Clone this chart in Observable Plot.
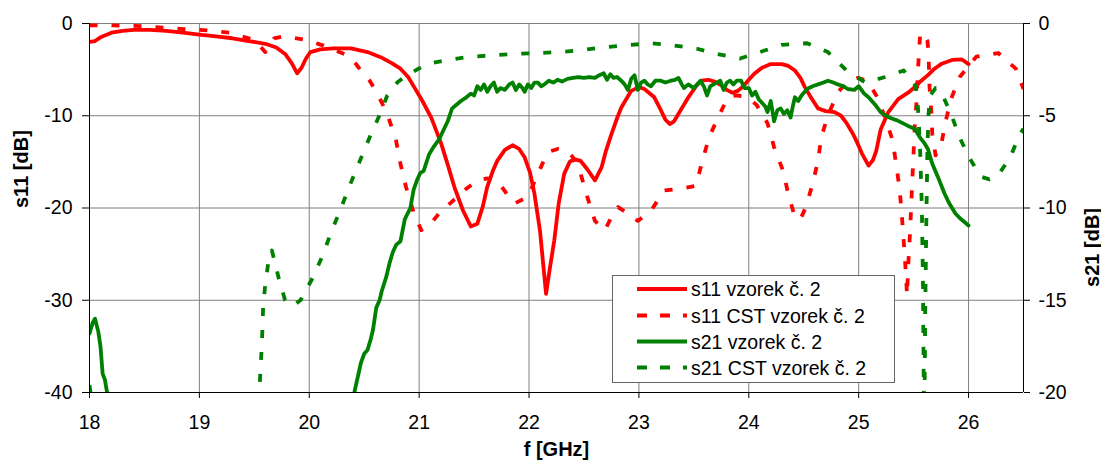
<!DOCTYPE html>
<html><head><meta charset="utf-8">
<script src="https://cdn.jsdelivr.net/npm/d3@7"></script>
<script src="https://cdn.jsdelivr.net/npm/@observablehq/plot@0.6"></script>
<style>
body{margin:0;background:#fff;}
#wrap{position:relative;width:1101px;height:465px;font-family:'Liberation Sans',Arial,sans-serif;}
#legend{position:absolute;left:0;top:0;pointer-events:none;}
</style></head><body><div id="wrap"></div>
<script>
// ---- data (frequency in GHz, values in dB) ----
const xTicks = [18, 19, 20, 21, 22, 23, 24, 25, 26];
const s11Ticks = [0, -10, -20, -30, -40];
const s21Ticks = [0, -5, -10, -15, -20];
const seriesNames = ["s11 vzorek č. 2", "s11 CST vzorek č. 2", "s21 vzorek č. 2", "s21 CST vzorek č. 2"];

const s11MeasF = [18.00,18.05,18.10,18.20,18.30,18.40,18.55,18.70,18.85,19.00,19.15,19.30,19.45,19.60,19.70,19.78,19.84,19.89,19.93,19.97,20.01,20.10,20.22,20.38,20.53,20.65,20.75,20.83,20.90,20.955,21.03,21.11,21.20,21.26,21.32,21.40,21.47,21.53,21.58,21.62,21.67,21.71,21.78,21.85,21.91,21.96,22.01,22.05,22.10,22.155,22.19,22.23,22.27,22.32,22.37,22.41,22.47,22.53,22.60,22.66,22.70,22.75,22.80,22.84,22.93,23.00,23.05,23.14,23.20,23.24,23.28,23.32,23.35,23.45,23.52,23.57,23.63,23.69,23.75,23.80,23.85,23.90,23.95,24.00,24.05,24.12,24.20,24.30,24.36,24.42,24.47,24.51,24.57,24.63,24.70,24.78,24.84,24.89,24.95,24.99,25.03,25.09,25.13,25.16,25.20,25.27,25.36,25.45,25.51,25.57,25.63,25.69,25.75,25.85,25.94,26.00];
const s11MeasDb = [-2.0,-1.9,-1.5,-1.0,-0.8,-0.7,-0.7,-0.8,-1.0,-1.2,-1.4,-1.6,-1.9,-2.2,-2.6,-3.3,-4.3,-5.4,-4.8,-3.8,-3.1,-2.8,-2.7,-2.7,-3.1,-3.65,-4.3,-4.9,-5.8,-6.9,-8.4,-10.2,-13.0,-15.3,-17.7,-20.3,-22.0,-21.7,-19.8,-17.7,-16.0,-14.9,-13.7,-13.2,-13.6,-14.5,-16.2,-18.5,-22.5,-29.3,-26.5,-23.5,-19.5,-16.3,-15.0,-14.7,-14.9,-15.8,-17.0,-15.6,-13.8,-12.0,-10.3,-9.1,-7.3,-6.9,-7.1,-8.0,-9.4,-10.4,-10.9,-10.6,-10.0,-8.0,-6.8,-6.2,-6.1,-6.3,-6.7,-7.2,-7.5,-7.3,-6.8,-6.1,-5.45,-4.8,-4.4,-4.4,-4.6,-5.1,-5.9,-6.9,-8.1,-9.2,-9.5,-9.6,-10.0,-10.8,-12.0,-13.0,-14.1,-15.4,-14.8,-13.8,-11.5,-9.6,-8.2,-7.5,-6.9,-6.2,-5.6,-4.9,-4.4,-3.95,-3.9,-4.4];

const s11CstF = [18.00,18.20,18.50,18.86,19.07,19.28,19.50,19.60,19.68,19.77,19.98,20.13,20.32,20.40,20.47,20.55,20.62,20.71,20.79,20.83,20.88,20.95,21.02,21.10,21.18,21.30,21.42,21.53,21.62,21.71,21.80,21.87,21.99,22.08,22.17,22.26,22.34,22.40,22.47,22.53,22.60,22.69,22.75,22.81,22.90,22.99,23.11,23.23,23.38,23.52,23.57,23.64,23.72,23.81,23.88,23.97,24.07,24.17,24.23,24.31,24.36,24.42,24.47,24.52,24.58,24.63,24.66,24.72,24.81,24.90,24.99,25.08,25.17,25.24,25.31,25.34,25.37,25.39,25.405,25.42,25.435,25.44,25.45,25.465,25.48,25.49,25.50,25.51,25.525,25.54,25.56,25.60,25.626,25.635,25.645,25.66,25.67,25.70,25.75,25.79,25.84,25.92,26.07,26.27,26.43,26.50];
const s11CstDb = [-0.2,-0.2,-0.3,-0.6,-0.75,-1.0,-1.8,-3.1,-1.6,-1.4,-1.8,-2.4,-3.3,-4.0,-5.1,-6.2,-7.6,-9.8,-12.7,-15.2,-17.7,-20.5,-22.4,-21.8,-20.6,-19.3,-18.0,-17.0,-16.8,-17.0,-18.5,-19.5,-18.8,-16.3,-13.95,-13.6,-13.8,-14.5,-16.3,-18.8,-21.4,-22.4,-21.0,-19.9,-20.6,-21.4,-20.3,-18.1,-17.9,-17.6,-15.2,-12.3,-10.2,-8.0,-7.8,-7.9,-8.8,-10.8,-13.4,-15.9,-18.5,-21.0,-21.2,-19.9,-17.4,-14.9,-12.3,-10.0,-7.45,-6.3,-5.9,-6.2,-8.0,-10.2,-12.7,-15.2,-17.7,-20.3,-22.8,-25.3,-28.3,-29.5,-26.4,-23.2,-19.2,-16.5,-13.95,-11.2,-8.7,-5.0,-1.0,-1.3,-1.9,-3.0,-6.9,-9.4,-12.0,-14.3,-13.2,-10.7,-8.2,-5.8,-3.6,-3.2,-4.9,-7.1];

const s21MeasF = [18.00,18.03,18.05,18.08,18.10,18.12,18.14,18.16,18.20,18.30,20.30,20.38,20.41,20.44,20.47,20.50,20.53,20.56,20.58,20.61,20.64,20.66,20.70,20.73,20.76,20.79,20.83,20.87,20.92,20.95,20.98,21.01,21.04,21.09,21.13,21.18,21.22,21.26,21.30,21.34,21.38,21.43,21.47,21.50,21.53,21.56,21.59,21.62,21.65,21.68,21.71,21.74,21.78,21.82,21.85,21.88,21.91,21.94,21.96,21.99,22.02,22.05,22.08,22.11,22.14,22.18,22.22,22.26,22.30,22.35,22.40,22.45,22.50,22.55,22.60,22.64,22.68,22.71,22.74,22.77,22.80,22.84,22.87,22.90,22.93,22.96,22.99,23.02,23.05,23.08,23.11,23.15,23.20,23.24,23.29,23.33,23.36,23.39,23.41,23.45,23.50,23.53,23.56,23.59,23.62,23.65,23.68,23.71,23.74,23.77,23.80,23.83,23.86,23.89,23.93,23.96,24.00,24.03,24.06,24.09,24.12,24.15,24.17,24.20,24.23,24.26,24.29,24.32,24.35,24.38,24.40,24.42,24.45,24.48,24.53,24.58,24.63,24.68,24.72,24.77,24.81,24.86,24.90,24.96,25.00,25.05,25.09,25.15,25.20,25.25,25.30,25.35,25.40,25.45,25.51,25.56,25.60,25.63,25.67,25.72,25.78,25.82,25.85,25.88,25.93,26.00];
const s21MeasDb = [-16.8,-16.2,-16.0,-16.7,-17.5,-19.0,-19.3,-20.0,-23.0,-25.0,-25.0,-22.0,-20.0,-19.2,-18.4,-17.9,-17.7,-17.1,-16.6,-15.4,-15.0,-14.5,-13.75,-13.0,-12.4,-12.0,-11.8,-10.6,-10.0,-9.0,-8.5,-8.1,-8.0,-7.1,-6.7,-6.3,-5.8,-5.3,-4.6,-4.4,-4.2,-4.0,-3.8,-3.9,-3.4,-3.6,-3.3,-3.7,-3.4,-3.2,-3.7,-3.5,-3.6,-3.3,-3.2,-3.6,-3.3,-3.5,-3.7,-3.3,-3.5,-3.2,-3.2,-3.4,-3.3,-3.1,-3.2,-3.05,-3.15,-3.0,-2.95,-2.9,-2.95,-2.9,-2.95,-2.8,-2.7,-3.05,-2.75,-2.95,-2.9,-3.1,-3.3,-3.6,-3.0,-2.8,-3.6,-3.2,-3.1,-3.3,-3.4,-3.1,-3.1,-3.2,-3.1,-3.05,-2.95,-3.3,-3.5,-3.3,-3.5,-3.3,-3.1,-3.4,-3.9,-3.4,-3.3,-3.2,-3.1,-3.6,-3.2,-3.1,-3.3,-3.1,-3.1,-3.5,-3.5,-3.9,-3.7,-4.1,-4.3,-4.5,-4.8,-4.2,-5.3,-4.7,-4.6,-4.9,-4.7,-5.1,-4.5,-4.0,-4.2,-3.9,-3.55,-3.4,-3.3,-3.2,-3.1,-3.2,-3.3,-3.4,-3.55,-3.6,-3.4,-3.8,-4.0,-4.4,-4.8,-5.0,-5.15,-5.25,-5.4,-5.55,-5.7,-6.2,-6.5,-6.8,-7.6,-8.3,-9.2,-9.7,-10.0,-10.3,-10.6,-10.95];

const s21CstF = [18.00,18.02,18.10,19.45,19.53,19.55,19.57,19.58,19.60,19.63,19.66,19.72,19.78,19.85,19.92,20.03,20.12,20.20,20.29,20.36,20.45,20.54,20.63,20.71,20.80,20.89,21.07,21.26,21.47,21.65,21.85,22.08,22.28,22.50,22.70,22.92,23.12,23.32,23.53,23.71,23.92,24.10,24.30,24.53,24.72,24.89,25.06,25.24,25.41,25.52,25.54,25.56,25.575,25.585,25.59,25.595,25.60,25.605,25.615,25.625,25.635,25.65,25.70,25.75,25.84,25.92,26.01,26.11,26.19,26.26,26.38,26.46,26.50];
const s21CstDb = [-19.6,-20.5,-25.0,-25.0,-20.3,-19.5,-17.2,-15.4,-14.1,-12.85,-12.3,-13.75,-15.0,-15.3,-15.0,-13.8,-12.6,-11.3,-10.0,-8.9,-7.6,-6.3,-5.1,-3.9,-3.2,-2.8,-2.2,-1.97,-1.8,-1.73,-1.65,-1.6,-1.55,-1.43,-1.28,-1.16,-1.07,-1.19,-1.37,-1.65,-1.9,-1.55,-1.16,-1.07,-1.55,-2.55,-3.2,-2.9,-2.55,-3.4,-4.6,-7.0,-10.0,-14.0,-18.0,-22.0,-20.0,-16.0,-11.0,-7.0,-5.0,-3.9,-3.5,-3.7,-4.9,-6.2,-7.3,-8.3,-8.45,-8.3,-7.25,-6.07,-5.7];

// ---- build tables ----
const rows = (fs, vs) => fs.map((f, i) => ({f, v: vs[i]}));
const s11Meas = rows(s11MeasF, s11MeasDb);
const s11Cst = rows(s11CstF, s11CstDb);
const s21Meas = rows(s21MeasF, s21MeasDb);
const s21Cst = rows(s21CstF, s21CstDb);

const RED = "#ff0000", GREEN = "#008000", GRID = "#808080";
const DASH = "8,14";
const LW = 3.8;
const FONT = "'Liberation Sans', Arial, sans-serif";

const chart = Plot.plot({
  width: 1101, height: 465,
  marginLeft: 89, marginRight: 78, marginTop: 23, marginBottom: 73,
  x: {domain: [18, 26.5]},
  y: {domain: [-40, 0]},
  style: {fontFamily: FONT, fontSize: "19.5px", background: "#fff", color: "#000", overflow: "visible"},
  marks: [
    Plot.gridX(xTicks, {stroke: GRID, strokeOpacity: 1}),
    Plot.gridY(s11Ticks, {stroke: GRID, strokeOpacity: 1}),
    Plot.line(s11Meas, {x: "f", y: "v", stroke: RED, strokeWidth: LW, clip: true, curve: "linear"}),
    Plot.line(s11Cst, {x: "f", y: "v", stroke: RED, strokeWidth: LW, strokeDasharray: DASH, strokeLinecap: "butt", clip: true}),
    Plot.line(s21Meas, {x: "f", y: d => d.v * 2, stroke: GREEN, strokeWidth: LW, clip: true}),
    Plot.line(s21Cst, {x: "f", y: d => d.v * 2, stroke: GREEN, strokeWidth: LW, strokeDasharray: DASH, strokeLinecap: "butt", clip: true}),
    Plot.ruleX([18, 26.5], {stroke: "#000", strokeWidth: 1}),
    Plot.ruleY([-40], {stroke: "#000", strokeWidth: 1}),
    Plot.axisX({ticks: xTicks, tickSize: 6, tickPadding: 17, tickFormat: d => String(d), label: null, fontSize: 19.5}),
    Plot.axisY({anchor: "left", ticks: s11Ticks, tickSize: 7, tickPadding: 10, tickFormat: d => String(d), label: null, fontSize: 19.5}),
    Plot.axisY({anchor: "right", ticks: s21Ticks.map(t => t * 2), tickSize: 6, tickPadding: 9, tickFormat: d => String(d / 2), label: null, fontSize: 19.5}),
    Plot.text(["s11 [dB]"], {frameAnchor: "left", dx: -68, rotate: -90, fontWeight: "bold", fontSize: 20, fill: "#000"}),
    Plot.text(["s21 [dB]"], {frameAnchor: "right", dx: 69, rotate: -90, fontWeight: "bold", fontSize: 20, fill: "#000"}),
    Plot.text(["f [GHz]"], {frameAnchor: "bottom", dy: 63, fontWeight: "bold", fontSize: 20, fill: "#000"})
  ]
});
const wrap = document.getElementById("wrap");
wrap.appendChild(chart);

// ---- legend overlay ----
const ns = "http://www.w3.org/2000/svg";
const lg = document.createElementNS(ns, "svg");
lg.setAttribute("id", "legend");
lg.setAttribute("width", 1101); lg.setAttribute("height", 465);
const el = (tag, attrs, parent) => { const e = document.createElementNS(ns, tag); for (const k in attrs) e.setAttribute(k, attrs[k]); parent.appendChild(e); return e; };
el("rect", {x: 612.5, y: 275.5, width: 282, height: 107, fill: "#fff", stroke: "#666", "stroke-width": 1}, lg);
const legendStyles = [
  {color: RED, dash: null},
  {color: RED, dash: "10,13"},
  {color: GREEN, dash: null},
  {color: GREEN, dash: "10,13"}
];
const rowY = [289, 315.5, 341.5, 367.5];
seriesNames.forEach((name, i) => {
  const st = legendStyles[i];
  const ln = el("line", {x1: 637, x2: 687, y1: rowY[i], y2: rowY[i], stroke: st.color, "stroke-width": LW}, lg);
  if (st.dash) ln.setAttribute("stroke-dasharray", st.dash);
  const t = el("text", {x: 691, y: rowY[i] + 7, "font-family": FONT, "font-size": 19.5, fill: "#000"}, lg);
  t.textContent = name;
});
wrap.appendChild(lg);
</script></body></html>
